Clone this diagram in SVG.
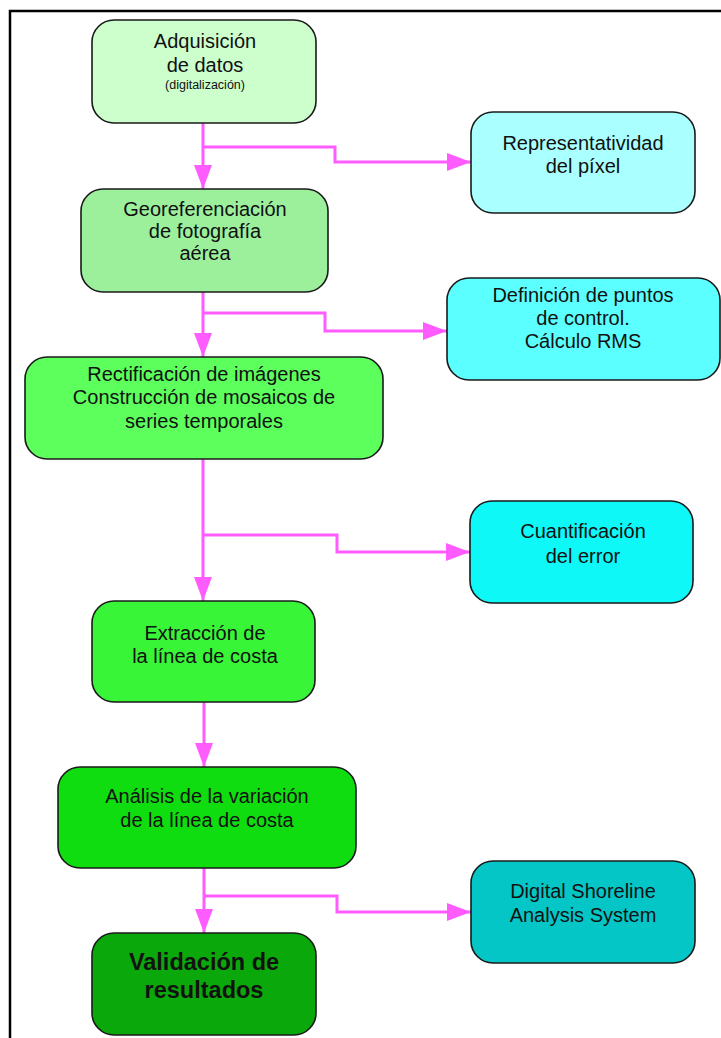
<svg xmlns="http://www.w3.org/2000/svg" width="721" height="1038" viewBox="0 0 721 1038">
<defs>
<marker id="ah" markerUnits="userSpaceOnUse" markerWidth="24" markerHeight="18" refX="24" refY="9" orient="auto">
<path d="M0,0 L24,9 L0,18 Z" fill="#FF5CFF"/>
</marker>
<style>
.box{stroke:#1a1a1a;stroke-width:1.6}
.t{font-family:"Liberation Sans",Arial,sans-serif;font-size:20px;fill:#111;text-anchor:middle}
.s{font-size:12.5px}
.b{font-size:23.5px;font-weight:bold}
.c{fill:none;stroke:#FF5CFF;stroke-width:3}
</style>
</defs>
<rect x="0" y="0" width="721" height="1038" fill="#fff"/>
<rect x="10" y="11" width="730" height="1050" fill="none" stroke="#000" stroke-width="2.5"/>
<g id="connectors">
<path class="c" d="M203,123 V189" marker-end="url(#ah)"/>
<path class="c" d="M203,147 H335 V162 H471" marker-end="url(#ah)"/>
<path class="c" d="M203,292 V357" marker-end="url(#ah)"/>
<path class="c" d="M203,313 H325 V331 H447" marker-end="url(#ah)"/>
<path class="c" d="M203,459 V601" marker-end="url(#ah)"/>
<path class="c" d="M203,535 H337 V552 H470" marker-end="url(#ah)"/>
<path class="c" d="M204,702 V767" marker-end="url(#ah)"/>
<path class="c" d="M204,868 V933" marker-end="url(#ah)"/>
<path class="c" d="M204,896 H337 V912 H471" marker-end="url(#ah)"/>
</g>
<g id="adquisicion">
<rect class="box" x="92" y="20" width="224" height="103" rx="22" fill="#CCFFCC"/>
<text class="t" x="205" y="48">Adquisición</text>
<text class="t" x="205" y="72">de datos</text>
<text class="t s" x="205" y="89">(digitalización)</text>
</g>
<g id="georeferenciacion">
<rect class="box" x="81" y="189" width="247" height="103" rx="22" fill="#9CF09C"/>
<text class="t" x="205" y="216">Georeferenciación</text>
<text class="t" x="205" y="238">de fotografía</text>
<text class="t" x="205" y="260">aérea</text>
</g>
<g id="representatividad">
<rect class="box" x="471" y="112" width="224" height="101" rx="22" fill="#AAFFFF"/>
<text class="t" x="583" y="150">Representatividad</text>
<text class="t" x="583" y="173">del píxel</text>
</g>
<g id="definicion">
<rect class="box" x="447" y="278" width="273" height="102" rx="22" fill="#5CFFFF"/>
<text class="t" x="583" y="302">Definición de puntos</text>
<text class="t" x="583" y="325">de control.</text>
<text class="t" x="583" y="348">Cálculo RMS</text>
</g>
<g id="rectificacion">
<rect class="box" x="25" y="357" width="358" height="102" rx="22" fill="#5CFF5C"/>
<text class="t" x="204" y="381">Rectificación de imágenes</text>
<text class="t" x="204" y="404">Construcción de mosaicos de</text>
<text class="t" x="204" y="428">series temporales</text>
</g>
<g id="cuantificacion">
<rect class="box" x="470" y="501" width="223" height="102" rx="22" fill="#0FF8F8"/>
<text class="t" x="583" y="538">Cuantificación</text>
<text class="t" x="583" y="563">del error</text>
</g>
<g id="extraccion">
<rect class="box" x="92" y="601" width="223" height="101" rx="22" fill="#38F538"/>
<text class="t" x="205" y="640">Extracción de</text>
<text class="t" x="205" y="663">la línea de costa</text>
</g>
<g id="analisis">
<rect class="box" x="58" y="767" width="298" height="101" rx="22" fill="#10DD10"/>
<text class="t" x="207" y="803">Análisis de la variación</text>
<text class="t" x="207" y="827">de la línea de costa</text>
</g>
<g id="digital">
<rect class="box" x="471" y="861" width="224" height="102" rx="22" fill="#04C6C6"/>
<text class="t" x="583" y="898">Digital Shoreline</text>
<text class="t" x="583" y="922">Analysis System</text>
</g>
<g id="validacion">
<rect class="box" x="92" y="933" width="224" height="102" rx="22" fill="#0AA80A"/>
<text class="t b" x="204" y="970">Validación de</text>
<text class="t b" x="204" y="998">resultados</text>
</g>
</svg>
